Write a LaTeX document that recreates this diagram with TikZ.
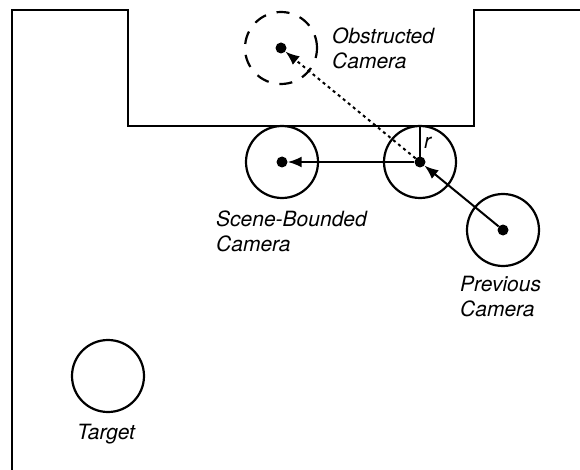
\documentclass[tikz,border=0pt]{standalone}
\usepackage{fontspec}
\setmainfont{TeX Gyre Heros}
\usetikzlibrary{arrows.meta, positioning}

\begin{document}
\begin{tikzpicture}[x=1pt, y=-1pt,
  cam/.style={draw, circle, line width=2.2pt, minimum size=72pt, inner sep=0pt},
  ghost/.style={cam, dash pattern=on 13pt off 11pt},
  dot/.style={fill, circle, inner sep=0pt, minimum size=11pt},
  lbl/.style={font=\fontsize{21}{25}\selectfont\itshape, align=left,
              anchor=north west, inner sep=0pt},
  arr/.style={-{Latex[length=14pt, width=11pt]}, line width=2pt}]

  \useasboundingbox (0,0) rectangle (580,470);

  % room outline with the notch of the obstacle
  \draw[line width=2.4pt] (12,470) -- (12,10) -- (128,10) -- (128,126)
    -- (474,126) -- (474,10) -- (580,10);

  % camera positions
  \node[ghost] (obsc) at (281,48) {};
  \node[cam] (wallc) at (420,162) {};
  \node[cam] (scenec) at (282,162) {};
  \node[cam] (prevc) at (503,230) {};
  \node[cam] (target) at (108,376) {};

  \node[dot] (obs) at (obsc.center) {};
  \node[dot] (wall) at (wallc.center) {};
  \node[dot] (scene) at (scenec.center) {};
  \node[dot] (prev) at (prevc.center) {};

  % labels
  \node[lbl] (obsl) at (332,28) {Obstructed\\Camera};
  \node[lbl] (scenel) at (216,211) {Scene-Bounded\\Camera};
  \node[lbl] (prevl) at (460,276) {Previous\\Camera};
  \node[lbl] (targl) at (77,424) {Target};

  % radius to the obstacle
  \draw[line width=2pt] (wall.center) -- (wallc.north);
  \node[lbl] (rl) at (424,137) {r};

  % camera moves
  \draw[arr] (prev) -- (wall);
  \draw[arr] (wall) -- (scene);
  \draw[arr, dash pattern=on 3pt off 3.5pt] (wall) -- (obs);
\end{tikzpicture}
\end{document}
